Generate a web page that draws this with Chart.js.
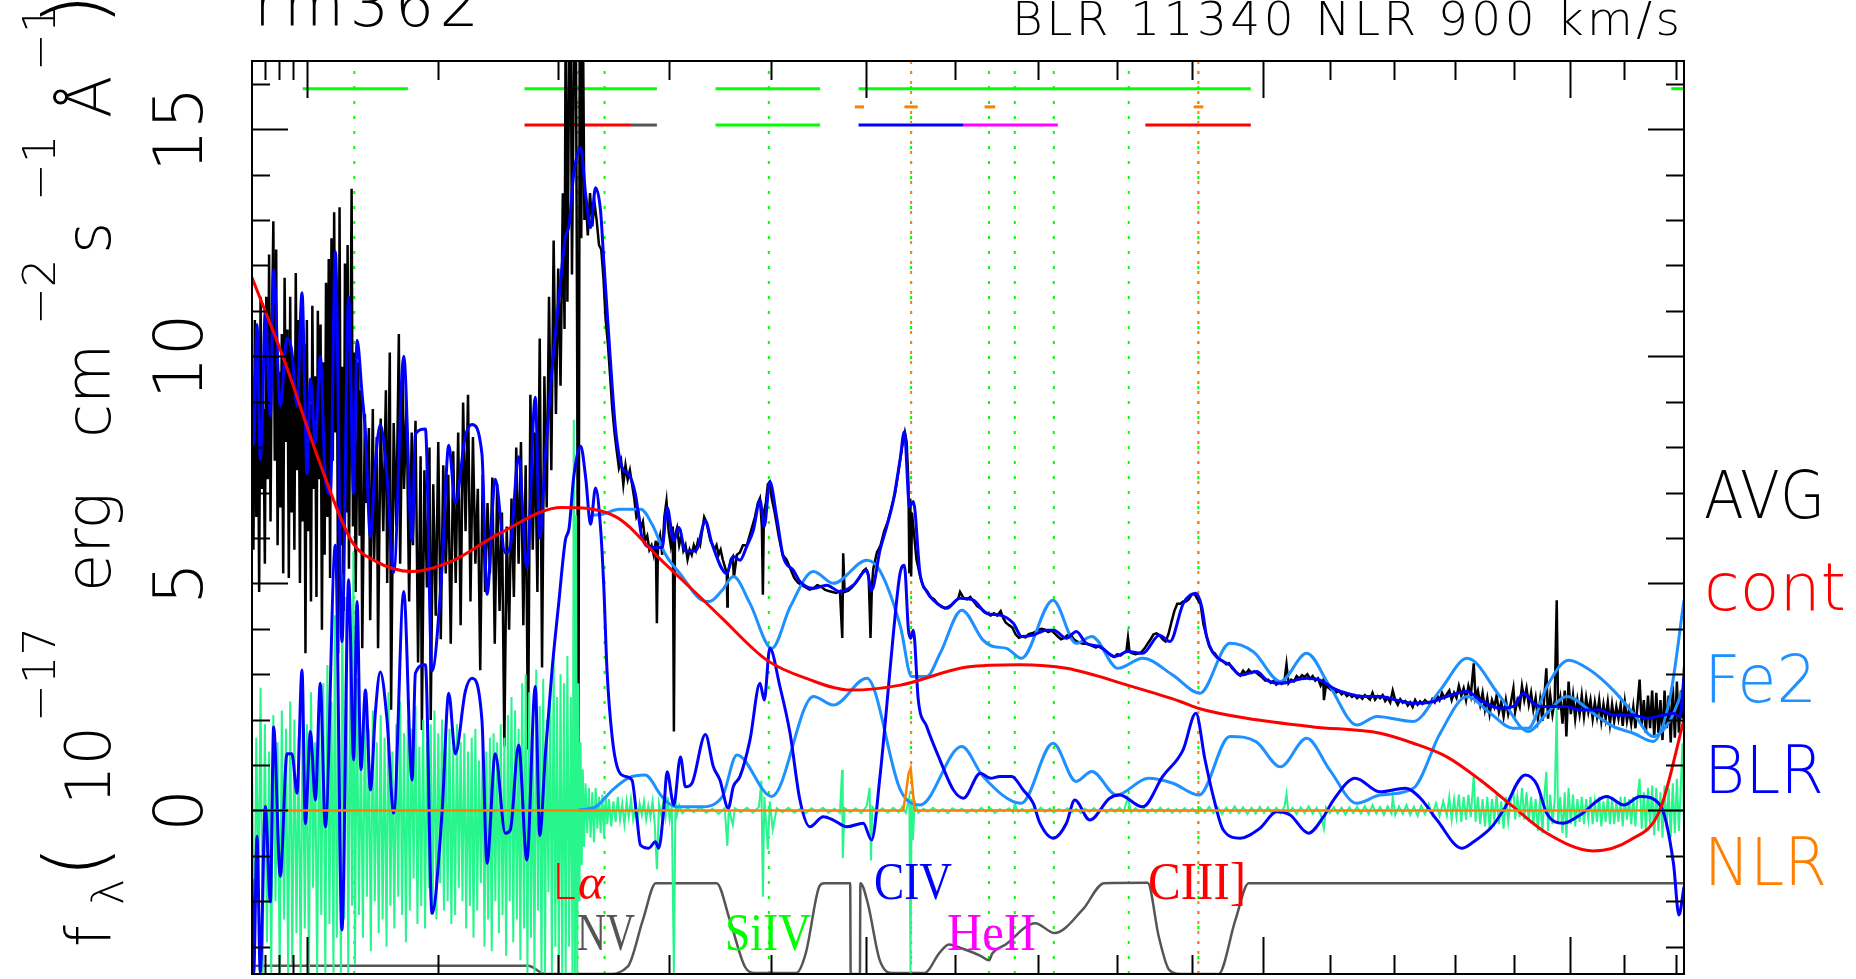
<!DOCTYPE html>
<html>
<head>
<meta charset="utf-8">
<script src="https://cdn.jsdelivr.net/npm/chart.js@4.4.1/dist/chart.umd.min.js"></script>
<style>
  html, body { margin: 0; padding: 0; background: #fff; overflow: hidden; }
  canvas { display: block; }
</style>
</head>
<body>
<canvas id="spec" width="1856" height="979"></canvas>
<script>
// rest-frame wavelength (A) vs flux (1e-17 erg/cm2/s/A)
var Y_MIN = -3.6, Y_MAX = 16.5;
var X_MIN = 961, X_MAX = 2715;

var avgData = [
  [961,9.35],[962,5.74],[963,10.8],[964,6.46],[965,10.18],[966,4.81],[967,11.31],[968,7.08],[969,8.84],[970,5.43],
  [971,11.31],[972,7.29],[973,12.24],[974,6.36],[975,10.59],[976,12.97],[977,7.7],[978,12.35],[979,5.84],[980,9.66],
  [981,6.67],[982,10.49],[983,5.22],[984,11.73],[985,8.11],[986,10.59],[987,5.12],[988,11.31],[989,6.56],[990,9.97],
  [991,5.74],[992,11.83],[993,7.49],[994,10.8],[995,5.01],[996,11.11],[997,6.36],[998,10.28],[999,3.46],[1000,10.8],
  [1001,6.15],[1002,8.94],[1003,4.6],[1004,11.11],[1005,7.08],[1006,9.56],[1007,4.7],[1008,11.0],[1009,7.29],[1010,10.7],
  [1011,3.98],[1012,9.87],[1013,5.63],[1014,11.62],[1015,6.46],[1016,12.14],[1017,5.12],[1018,12.6],[1019,7.7],[1020,13.17],
  [1021,8.32],[1022,11.0],[1023,3.46],[1024,13.28],[1025,5.84],[1026,9.77],[1027,4.39],[1028,12.04],[1029,6.56],[1030,12.45],
  [1031,5.32],[1033,13.69],[1034,6.25],[1035,10.08],[1036,4.81],[1038,9.87],[1039,6.05],[1040,9.25],[1041,3.57],[1043,8.73],
  [1044,6.77],[1046,8.42],[1047,4.19],[1049,8.84],[1050,5.53],[1052,8.22],[1053,3.57],[1055,8.63],[1057,6.15],[1059,9.25],
  [1060,5.01],[1062,10.08],[1063,2.22],[1065,8.53],[1067,6.25],[1069,10.49],[1070,5.43],[1072,9.77],[1073,7.08],[1075,8.94],
  [1077,4.6],[1079,8.32],[1080,5.84],[1082,8.58],[1084,3.26],[1086,7.8],[1087,1.77],[1089,7.49],[1091,4.91],[1093,7.99],
  [1094,1.99],[1096,7.18],[1098,4.29],[1100,8.11],[1102,3.77],[1104,7.6],[1106,5.22],[1108,7.39],[1110,3.67],[1112,7.91],
  [1114,5.01],[1116,8.32],[1118,4.08],[1120,8.98],[1122,6.15],[1124,9.15],[1126,4.6],[1128,8.22],[1130,5.43],[1132,7.08],
  [1134,3.09],[1136,7.39],[1138,4.81],[1140,6.77],[1142,5.22],[1144,7.33],[1146,3.67],[1148,7.18],[1150,4.39],[1152,6.56],
  [1154,1.41],[1156,6.25],[1158,3.98],[1160,6.87],[1162,4.7],[1164,7.99],[1166,5.43],[1168,8.11],[1170,4.08],[1172,7.6],
  [1174,1.34],[1176,9.15],[1178,5.74],[1180,8.32],[1182,4.81],[1184,10.39],[1186,3.15],[1188,9.56],[1190,6.67],[1192,11.31],
  [1194,7.49],[1196,12.55],[1198,8.73],[1200,11.93],[1202,9.35],[1204,13.59],[1205.5,10.6],[1206.5,18],[1208,11.2],[1210.5,20],
  [1212,11.8],[1215,20],[1216.5,10.8],[1217.7,0.3],[1219,20],[1220.2,12.6],[1221.5,18],[1223,13.0],
  [1224,13.59],[1226,12.66],[1228,13.59],[1230,12.86],[1232,13.38],[1234,12.97],[1236,12.45],[1238,12.35],[1240,11.73],[1242,10.8],
  [1244,10.28],[1246,9.56],[1248,8.84],[1250,8.32],[1252,7.91],[1254,7.54],[1256,7.7],[1258,7.18],[1260,7.6],[1262,7.29],
  [1264,7.49],[1266,7.18],[1268,6.87],[1270,6.46],[1272,6.56],[1274,6.22],[1276,6.36],[1278,5.94],[1280,6.05],[1282,5.74],
  [1284,5.84],[1286,5.63],[1288,5.94],[1289,4.12],[1290,5.84],[1292,6.05],[1294,5.63],[1296,6.46],[1298,6.81],[1300,6.15],
  [1302,5.84],[1304,6.25],[1305,1.74],[1306,6.05],[1308,6.22],[1310,5.84],[1312,6.05],[1314,5.72],[1316,5.84],[1318,5.53],
  [1320,5.74],[1322,5.63],[1324,5.84],[1326,5.72],[1328,5.94],[1330,5.84],[1332,6.15],[1334,6.46],[1336,6.36],[1338,6.15],
  [1340,5.94],[1342,5.86],[1344,5.74],[1346,5.84],[1348,5.63],[1350,5.74],[1352,5.53],[1356,5.22],[1356.6,4.49],[1357,5.22],
  [1360,5.53],[1362,5.59],[1363,5.12],[1366,5.63],[1369,5.68],[1372,5.84],[1376,5.84],[1380,6.15],[1384,6.46],[1387,6.77],
  [1389,6.87],[1391,6.25],[1392,4.75],[1393,6.56],[1395,6.77],[1397,7.18],[1399,7.23],[1401,6.87],[1404,6.56],[1408,6.05],
  [1412,5.63],[1416,5.53],[1420,5.32],[1424,5.12],[1428,5.01],[1432,4.96],[1436,4.91],[1440,4.86],[1444,4.89],[1448,4.96],
  [1452,4.93],[1456,4.86],[1460,4.83],[1464,4.81],[1468,4.79],[1472,4.83],[1474.5,3.8],[1475.5,5.66],[1477,4.81],[1481,4.84],
  [1485,4.91],[1489,5.01],[1493,5.12],[1497,5.27],[1500,5.32],[1503,5.17],[1505,3.8],[1506.5,4.91],[1508,5.32],[1512,5.68],
  [1516,5.84],[1520,6.15],[1524,6.36],[1528,6.67],[1532,6.98],[1536,7.49],[1540,8.01],[1543,8.32],[1545,8.11],[1547,7.18],
  [1548,5.22],[1549,6.87],[1550,5.15],[1551,6.56],[1553,6.15],[1556,5.53],[1560,5.17],[1564,4.91],[1568,4.83],[1572,4.7],
  [1576,4.65],[1580,4.55],[1584,4.5],[1588,4.45],[1592,4.48],[1596,4.53],[1600,4.6],[1604,4.67],[1606,4.81],[1610,4.68],
  [1614,4.65],[1618,4.7],[1622,4.6],[1626,4.5],[1630,4.45],[1634,4.39],[1638,4.34],[1642,4.29],[1646,4.34],[1650,4.29],
  [1654,4.39],[1657,4.24],[1660,4.14],[1664,4.08],[1668,4.03],[1672,3.88],[1676,3.8],[1680,3.83],[1684,3.81],[1688,3.88],
  [1692,3.9],[1696,3.93],[1700,3.98],[1704,4.0],[1708,3.98],[1712,3.93],[1716,3.96],[1720,3.9],[1724,3.83],[1728,3.77],
  [1732,3.8],[1736,3.86],[1740,3.88],[1744,3.77],[1748,3.72],[1752,3.69],[1756,3.67],[1760,3.67],[1764,3.65],[1768,3.62],
  [1772,3.59],[1776,3.61],[1780,3.57],[1784,3.52],[1788,3.46],[1792,3.41],[1796,3.38],[1800,3.44],[1804,3.41],[1808,3.46],
  [1812,3.52],[1814,3.8],[1816,3.49],[1820,3.46],[1824,3.44],[1828,3.46],[1832,3.49],[1836,3.57],[1840,3.67],[1844,3.77],
  [1848,3.88],[1852,3.9],[1856,3.86],[1860,3.77],[1864,3.72],[1868,3.88],[1872,4.14],[1876,4.39],[1880,4.55],[1884,4.55],
  [1888,4.6],[1892,4.6],[1896,4.65],[1900,4.76],[1904,4.76],[1908,4.65],[1912,4.55],[1916,4.1],[1920,3.85],[1924,3.62],
  [1928,3.5],[1932,3.46],[1936,3.36],[1940,3.31],[1944,3.28],[1948,3.22],[1952,3.24],[1956,3.14],[1960,3.08],[1964,3.02],
  [1968,2.97],[1972,3.08],[1976,3.01],[1980,3.1],[1984,3.03],[1988,3.06],[1992,3.02],[1996,2.97],[2000,2.92],[2004,2.86],
  [2008,2.88],[2012,2.81],[2016,2.85],[2020,2.77],[2024,2.83],[2028,2.79],[2032,2.86],[2035,3.22],[2038,2.8],[2042,2.88],
  [2046,2.84],[2050,2.96],[2054,2.9],[2058,2.98],[2062,2.94],[2066,3.0],[2070,2.9],[2074,2.96],[2078,2.86],[2082,2.91],
  [2086,2.75],[2090,2.87],[2091,2.43],[2094,2.75],[2098,2.7],[2102,2.65],[2106,2.68],[2110,2.6],[2114,2.63],[2118,2.56],
  [2122,2.6],[2126,2.52],[2130,2.56],[2134,2.5],[2138,2.54],[2142,2.47],[2146,2.52],[2150,2.46],[2154,2.54],[2158,2.49],
  [2162,2.44],[2166,2.59],[2170,2.44],[2174,2.52],[2178,2.47],[2182,2.54],[2186,2.41],[2190,2.48],[2194,2.38],[2198,2.64],
  [2202,2.43],[2206,2.33],[2210,2.45],[2214,2.37],[2218,2.41],[2222,2.31],[2226,2.38],[2230,2.28],[2234,2.43],[2238,2.33],
  [2242,2.4],[2246,2.35],[2250,2.43],[2254,2.38],[2258,2.33],[2262,2.45],[2266,2.38],[2270,2.53],[2274,2.43],[2278,2.59],
  [2282,2.48],[2286,2.56],[2290,2.64],[2294,2.43],[2298,2.59],[2302,2.48],[2306,2.74],[2310,2.53],[2314,2.69],[2318,2.43],
  [2322,2.74],[2326,2.53],[2331,3.24],[2334,2.48],[2338,2.64],[2342,2.33],[2346,2.59],[2350,2.22],[2354,2.48],[2358,2.12],
  [2362,2.43],[2366,2.28],[2370,2.53],[2374,2.17],[2378,2.38],[2382,2.07],[2386,2.43],[2390,2.12],[2394,2.33],[2399,2.69],
  [2402,2.17],[2406,2.43],[2410,2.28],[2414,2.74],[2418,2.43],[2422,2.69],[2426,2.33],[2430,2.59],[2434,2.22],[2438,2.48],
  [2442,2.02],[2446,2.43],[2450,1.97],[2454,2.59],[2457,3.13],[2460,2.02],[2464,2.53],[2468,2.12],[2472,2.43],[2475.6,4.63],
  [2478,2.22],[2482,2.48],[2486,1.91],[2490,2.64],[2493,1.63],[2497,2.84],[2501,2.12],[2505,2.53],[2509,2.02],[2513,2.43],
  [2517,2.12],[2521,2.53],[2525,2.07],[2529,2.48],[2533,2.17],[2537,2.43],[2541,2.02],[2545,2.38],[2549,2.07],[2553,2.43],
  [2557,1.97],[2561,2.33],[2565,2.02],[2569,2.38],[2573,1.91],[2577,2.33],[2581,1.97],[2585,2.28],[2589,2.02],[2593,2.33],
  [2597,1.86],[2601,2.38],[2605,1.97],[2609,2.22],[2613,1.91],[2617,2.28],[2621,1.81],[2625,2.33],[2629,2.88],[2633,1.86],
  [2637,2.43],[2641,1.71],[2645,2.53],[2649,1.81],[2653,2.64],[2657,1.6],[2661,2.59],[2665,1.71],[2669,2.43],[2673,1.55],
  [2677,2.64],[2681,1.81],[2685,2.53],[2689,1.5],[2693,2.74],[2697,1.6],[2701,2.84],[2705,1.71],[2709,2.64],[2712,2.02],[2715,3.15]
];

var residData = [
  [961,1.2],[962.5,-3.6],[964,1.6],[965.5,-1.8],[967,2.7],[968.5,-3.6],[970,1.9],[971.5,-2.9],[973,1.3],[974.5,-3.6],
  [976,2.1],[977.5,-2.0],[979,1.5],[980.5,-3.6],[982,2.2],[983.5,-2.4],[985,1.8],[986.5,-3.6],[988,2.4],[989.5,-3.4],
  [991,2.0],[992.5,-2.7],[994,1.6],[995.5,-3.6],[997,2.3],[998.5,-2.6],[1000,1.9],[1001.5,-3.6],[1003,2.6],[1004.5,-1.7],
  [1006,1.5],[1007.5,-3.6],[1009,2.1],[1010.5,-2.3],[1012,2.8],[1013.5,-3.6],[1015,3.2],[1016.5,-2.5],[1018,2.4],[1019.5,-3.6],
  [1020.5,4.3],[1022,-2.8],[1023.5,2.0],[1025,-3.6],[1026,5.2],[1027.5,-2.4],[1029,4.7],[1030.5,-3.6],[1032,3.6],[1033.3,-2.1],
  [1034.3,5.7],[1035.5,-3.4],[1037,2.9],[1038.5,-2.3],[1040,1.7],[1041.5,-2.8],[1043,2.4],[1044.5,-1.9],[1046,1.8],[1047.5,-3.1],
  [1049,2.2],[1050.5,-2.0],[1052,1.5],[1053.5,-2.7],[1055,2.1],[1056.5,-2.4],[1058,1.6],[1059.5,-3.0],[1061,2.6],[1062.5,-2.1],
  [1064,1.3],[1065.5,-2.6],[1067,1.9],[1068.5,-1.9],[1070,2.4],[1071.5,-2.3],[1073,1.7],[1074.5,-2.9],[1076,2.0],[1077.5,-2.2],
  [1079,1.8],[1080.5,-1.5],[1082,2.3],[1083.5,-2.5],[1085,1.4],[1086.5,-2.1],[1088,2.0],[1089.5,-2.6],[1091,1.5],[1092.5,-1.7],
  [1094,1.9],[1095.5,-2.3],[1097,2.2],[1098.5,-2.4],[1100,1.7],[1101.5,-1.6],[1103,2.0],[1104.5,-2.2],[1106,1.6],[1107.5,-2.0],
  [1109,1.8],[1110.5,-2.5],[1112,1.4],[1113.5,-2.3],[1115,1.9],[1116.5,-1.7],[1118,1.5],[1119.5,-2.0],[1121,1.7],[1122.5,-2.6],
  [1124,1.3],[1125.5,-2.1],[1127,1.6],[1128.5,-2.8],[1130,1.8],[1131.5,-2.2],[1133,1.1],[1134.5,-1.6],[1136,1.5],[1137.5,-3.0],
  [1139,1.3],[1140.5,-2.4],[1142,1.6],[1143.5,-3.1],[1145,1.7],[1146.5,-2.0],[1148,1.5],[1149.5,-2.7],[1151,1.9],[1152.5,-2.3],
  [1154,1.6],[1155.5,-3.2],[1157,2.1],[1158.5,-2.0],[1160,2.5],[1161.5,-2.9],[1163,2.2],[1164.5,-2.4],[1166,1.8],[1167.5,-3.3],
  [1169,2.8],[1170.5,-2.6],[1172,3.0],[1173.5,-3.6],[1175,2.6],[1176.5,-2.8],[1178,1.7],[1179.5,-3.6],[1181,3.1],[1182.5,-2.2],
  [1184,2.3],[1185.5,-3.6],[1187,2.9],[1188.5,-3.6],[1190,2.0],[1191.5,-1.8],[1193,2.7],[1194.5,-3.6],[1196,3.4],[1197.5,-3.0],
  [1199,2.5],[1200.5,-3.6],[1202,3.0],[1203.5,-3.6],[1205,2.8],[1206.5,-3.6],[1208,3.4],[1209.5,-3.0],[1211,2.5],[1212.5,-3.6],
  [1213.6,8.6],[1214.6,-3.6],[1215.6,6.5],[1216.6,-3.6],[1217.6,2.8],
  [1218.6,-2.0],[1219.6,1.5],[1220.6,-1.2],[1221.6,0.9],[1222.6,-0.8],[1224,0.6],[1225.5,-0.5],[1227,0.5],[1228.5,-0.6],[1230,0.4],
  [1231.5,-0.7],[1233,0.5],[1234.5,-0.4],[1236,0.3],[1237.5,-0.5],[1239,0.35],[1240.5,-0.6],[1242,0.3],[1243.5,-0.3],[1245,0.25],
  [1247,-0.35],[1249,0.2],[1251,-0.25],[1253,0.3],[1255,-0.2],[1257,0.15],[1259,-0.3],[1261,0.2],[1263,-0.15],[1265,0.25],
  [1267,-0.2],[1269,0.1],[1271,-0.25],[1273,0.15],[1275,-0.1],[1277,0.2],[1279,-0.2],[1281,0.1],[1283,-0.15],[1285,0.2],
  [1287,-0.3],[1289,-1.3],[1291,0.15],[1293,-0.1],[1295,0.2],[1297,-0.15],[1299,0.3],[1301,-0.2],[1303,0.1],[1305,-3.6],
  [1306.5,0.2],[1308,-0.1],[1310,0.12],[1313,-0.06],[1318,0.05],[1324,-0.04],[1330,0.07],[1336,-0.05],[1342,0.04],[1348,-0.07],
  [1354,0.05],[1356.6,-0.78],[1358,0.04],[1362,-0.32],[1364,0.05],[1370,-0.04],[1376,0.06],[1382,-0.05],[1388,0.08],[1390.5,0.66],
  [1392,-1.9],[1393.5,0.3],[1397,-0.86],[1399,0.2],[1402,-0.42],[1406,0.05],[1412,-0.04],[1418,0.06],[1424,-0.05],[1430,0.04],
  [1436,-0.06],[1442,0.05],[1448,-0.03],[1454,0.06],[1460,-0.05],[1466,0.04],[1472,-0.05],[1474.3,0.89],[1475,-1.05],[1477,0.05],
  [1483,-0.04],[1489,0.05],[1495,-0.06],[1501,0.1],[1504,0.5],[1505.5,-1.1],[1507,0.08],[1512,-0.05],[1518,0.05],[1524,-0.05],
  [1530,0.06],[1536,-0.04],[1540,0.08],[1544,-0.05],[1548,0.3],[1549.3,-3.6],[1550.5,0.25],[1552,-0.65],[1554,0.2],
  [1558,-0.05],[1564,0.04],[1569,-0.03],[1575,0.06],[1581,-0.04],[1586,0.03],[1592,-0.06],[1597,0.05],[1603,-0.02],[1608,0.04],
  [1614,-0.05],[1620,0.03],[1625,-0.04],[1631,0.06],[1636,-0.03],[1642,0.04],[1647,-0.06],[1653,0.03],[1658,-0.02],[1664,0.05],
  [1669,-0.04],[1671,0.15],[1675,-0.03],[1680,0.04],[1686,-0.05],[1692,0.03],[1697,-0.04],[1703,0.06],[1708,-0.03],[1714,0.04],
  [1719,-0.05],[1725,0.03],[1731,-0.02],[1736,0.05],[1742,-0.04],[1747,0.03],[1753,-0.06],[1758,0.04],[1764,-0.03],[1770,0.05],
  [1775,-0.04],[1781,0.03],[1786,-0.05],[1792,0.04],[1797,-0.03],[1803,0.06],[1808,-0.04],[1813.7,0.28],[1818,-0.04],[1824,0.05],
  [1829,-0.03],[1835,0.04],[1840,-0.05],[1846,0.03],[1851,-0.04],[1857,0.06],[1862,-0.03],[1868,0.04],[1873,-0.05],[1879,0.03],
  [1884,-0.04],[1890,0.05],[1895,-0.03],[1901,0.04],[1906,-0.06],[1912,0.06],[1918,-0.05],[1924,0.08],[1930,-0.06],[1936,0.07],
  [1942,-0.08],[1948,0.06],[1954,-0.05],[1960,0.09],[1966,-0.06],[1972,0.07],[1978,-0.08],[1984,0.06],[1990,-0.07],[1996,0.08],
  [2002,-0.05],[2008,0.07],[2014,-0.08],[2020,0.06],[2026,-0.06],[2032,0.08],[2035,0.37],[2038,-0.07],[2044,0.06],[2050,-0.08],
  [2056,0.07],[2062,-0.06],[2068,0.09],[2074,-0.07],[2080,0.06],[2086,-0.08],[2091,-0.4],[2094,0.07],[2100,-0.06],[2106,0.08],
  [2112,-0.07],[2118,0.06],[2124,-0.09],[2130,0.07],[2136,-0.06],[2142,0.08],[2148,-0.07],[2154,0.1],[2160,-0.08],[2166,0.12],
  [2172,-0.07],[2178,0.08],[2184,-0.1],[2190,0.09],[2196,-0.07],[2198,0.3],[2202,-0.1],[2208,0.09],[2214,-0.08],[2220,0.12],
  [2226,-0.1],[2232,0.08],[2238,-0.12],[2244,0.1],[2250,-0.08],[2256,0.14],[2262,-0.1],[2268,0.16],[2274,-0.12],[2280,0.2],
  [2286,-0.12],[2290,0.3],[2294,-0.2],[2298,0.25],[2302,-0.15],[2306,0.35],[2310,-0.25],[2314,0.3],[2318,-0.2],[2322,0.35],
  [2326,-0.15],[2331,0.78],[2334,-0.25],[2338,0.3],[2342,-0.3],[2346,0.25],[2350,-0.35],[2354,0.3],[2358,-0.4],[2362,0.25],
  [2366,-0.2],[2370,0.35],[2374,-0.3],[2378,0.2],[2382,-0.4],[2386,0.3],[2390,-0.25],[2394,0.2],[2399,0.45],[2402,-0.2],
  [2406,0.3],[2410,-0.15],[2414,0.5],[2418,-0.2],[2422,0.4],[2426,-0.25],[2430,0.3],[2434,-0.3],[2438,0.25],[2442,-0.45],
  [2446,0.3],[2450,-0.5],[2454,0.4],[2457,0.85],[2460,-0.45],[2464,0.35],[2468,-0.3],[2472,0.25],[2475.6,2.29],[2478,-0.3],
  [2482,0.3],[2486,-0.5],[2490,0.4],[2493,-0.6],[2497,0.5],[2501,-0.3],[2505,0.35],[2509,-0.35],[2513,0.25],[2517,-0.25],
  [2521,0.3],[2525,-0.3],[2529,0.25],[2533,-0.2],[2537,0.3],[2541,-0.3],[2545,0.2],[2549,-0.25],[2553,0.3],[2557,-0.35],
  [2561,0.2],[2565,-0.25],[2569,0.3],[2573,-0.3],[2577,0.25],[2581,-0.3],[2585,0.2],[2589,-0.25],[2593,0.3],[2597,-0.35],
  [2601,0.3],[2605,-0.2],[2609,0.25],[2613,-0.3],[2617,0.3],[2621,-0.35],[2625,0.3],[2629,0.7],[2633,-0.4],[2637,0.4],
  [2641,-0.45],[2645,0.5],[2649,-0.35],[2653,0.55],[2657,-0.55],[2661,0.5],[2665,-0.45],[2669,0.4],[2673,-0.6],[2677,0.55],
  [2681,-0.4],[2685,0.5],[2689,-0.6],[2693,0.6],[2697,-0.5],[2701,0.7],[2705,-0.45],[2709,0.6],[2712,1.48],[2715,-0.3]
];

var contData = [
  [961,11.73],[984,9.89],[1009,7.69],[1033,5.93],[1051,5.49],[1079,5.26],[1111,5.49],[1150,6.10],[1203,6.67],[1250,6.48],
  [1294,5.49],[1330,4.70],[1351,4.24],[1396,3.31],[1440,2.88],[1483,2.65],[1538,2.76],[1614,3.16],[1677,3.21],[1735,3.13],
  [1821,2.72],[1884,2.40],[1911,2.24],[1977,2.03],[2075,1.84],[2178,1.70],[2231,1.48],[2286,1.18],[2342,0.67],[2398,0.09],
  [2458,-0.50],[2542,-0.89],[2611,-0.65],[2668,0.01],[2715,2.00]
];

var fe2Data = [
  [1218,0.01],[1233,0.08],[1248,0.45],[1263,0.72],[1278,0.78],[1294,0.30],[1307,0.08],[1330,0.08],[1351.5,0.30],[1366,1.22],
  [1401,0.31],[1444,2.51],[1465,2.32],[1501,2.91],[1538,0.45],[1560,0.12],[1608,1.41],[1633,0.75],[1679,0.16],[1718,1.48],
  [1747,0.64],[1767,0.86],[1799,0.34],[1841,0.71],[1874,0.60],[1910,0.34],[1953,1.63],[1991,1.51],[2026,0.96],[2065,1.59],
  [2100,0.89],[2141,0.16],[2178,0.34],[2231,0.49],[2275,1.70],[2320,2.51],[2359,2.14],[2399,1.81],[2425,1.81],[2458,2.73],
  [2497,3.31],[2536,3.09],[2579,2.65],[2617,2.14],[2655,1.63],[2688,1.99],[2715,2.73]
];

var contFe2Data = [
  [1230,6.50],[1239,6.52],[1254,6.63],[1274,6.63],[1284.5,6.30],[1297,5.64],[1313,5.15],[1329,4.67],[1339,4.60],[1351.5,4.85],
  [1362.5,5.15],[1379,4.56],[1401,3.57],[1420,4.49],[1444,5.26],[1465,5.00],[1501,5.51],[1515,5.29],[1538,4.05],[1550.5,2.95],
  [1567.6,2.95],[1583,3.46],[1608,4.41],[1633,3.75],[1645,3.61],[1661,3.57],[1679,3.35],[1718,4.63],[1747,3.68],[1767,3.83],
  [1801,3.13],[1833.5,3.35],[1874,2.98],[1911,2.58],[1953,3.68],[1987,3.49],[2026,2.84],[2065,3.46],[2100,2.73],[2141.5,1.88],
  [2173,2.07],[2231,1.96],[2275,2.65],[2320,3.35],[2376,2.51],[2425,1.74],[2458,2.14],[2494,2.51],[2542,2.14],[2579,1.85],
  [2617,1.70],[2655,1.52],[2688,2.51],[2715,4.63]
];

var blrData = [
  [961,-1.5],[962.2,-3.58],[964.5,-0.57],[966.8,-3.58],[970.3,0.09],[973.9,-2.01],[976.2,1.84],[980.9,-1.45],[985.7,1.25],[989.2,1.25],
  [992.9,0.38],[996.5,3.09],[998.9,-0.29],[1002.6,1.74],[1006.2,0.23],[1009.8,2.80],[1013.5,-0.36],[1020.9,5.84],[1025.8,-2.63],[1030.8,5.08],
  [1034.5,1.11],[1037.1,4.60],[1040,0.9],[1043.4,2.65],[1047.2,0.45],[1050.9,2.14],[1054.7,3.05],[1059.9,1.99],[1065,-0.06],[1072.8,4.82],
  [1079.3,0.67],[1081.9,3.02],[1089.8,3.21],[1095,-2.26],[1103,-0.06],[1108.4,2.58],[1113.7,1.25],[1121.8,2.62],[1127.2,2.91],[1135.4,1.99],
  [1139.6,-1.16],[1146.4,1.25],[1154.8,-0.50],[1159,-0.43],[1166,1.44],[1173,-1.09],[1180.2,2.73],[1184,-0.55],[1188.9,1.25],[1194.6,3.09],
  [1200.4,4.56],[1206.2,5.95],[1209.5,6.22],[1213.5,7.33],[1219.7,8.02],[1224.1,7.33],[1228.5,6.30],[1232.9,7.10],[1237.4,6.22],[1240.3,4.93],
  [1243.2,3.09],[1247.8,1.63],[1252.4,0.96],[1259.9,0.75],[1265.9,0.67],[1270.6,-0.20],[1273.7,-0.76],[1281.4,-0.83],[1287.6,-0.69],[1290.7,-0.83],
  [1295.4,0.01],[1298.6,0.85],[1304.9,0.12],[1311.2,1.18],[1316,0.52],[1322.2,0.60],[1335.2,1.67],[1342.8,0.97],[1349.3,0.67],[1357.5,0.05],
  [1362.5,0.53],[1369.1,0.75],[1379,1.55],[1389.1,2.80],[1393.4,2.43],[1399,3.57],[1409.3,2.73],[1419.7,1.70],[1429.9,0.23],[1440.3,-0.36],
  [1454.3,-0.14],[1464.9,-0.21],[1479.2,-0.36],[1497.1,-0.28],[1506.2,-0.65],[1515.4,0.75],[1522.8,2.29],[1530.2,3.90],[1537.6,5.22],[1542.4,5.40],
  [1547,3.97],[1549.5,3.79],[1552.5,3.97],[1558.1,2.43],[1567.6,1.85],[1582.8,1.11],[1598.3,0.45],[1610,0.27],[1629.8,0.82],[1641.8,0.71],
  [1653.1,0.75],[1667.3,0.75],[1681.3,0.45],[1693.5,0.16],[1701.8,-0.28],[1718.2,-0.61],[1734.8,-0.28],[1745.3,0.23],[1764.4,-0.21],[1790,0.27],
  [1803.1,0.34],[1833.5,0.08],[1860.3,0.75],[1887.8,1.33],[1905.6,2.14],[1918.3,1.11],[1929.9,0.30],[1943.9,-0.43],[1967.6,-0.61],[1996.3,-0.39],
  [2020.6,-0.03],[2040.4,-0.10],[2067.7,-0.50],[2090.3,-0.14],[2105.5,0.23],[2139,0.71],[2178.1,0.41],[2218.3,0.49],[2242.6,0.27],[2269.7,-0.21],
  [2311.1,-0.83],[2330.7,-0.69],[2361.8,-0.36],[2381.9,0.01],[2419.8,0.78],[2440.6,0.56],[2457.7,-0.06],[2487.6,-0.28],[2518,-0.10],[2567.2,0.31],
  [2599.3,0.12],[2629.8,0.31],[2668.3,0.12],[2694.3,-1.16],[2705,-2.30],[2715,-1.68]
];

var modelData = [
  [961,9.6],[962.2,8.07],[964.5,10.7],[966.8,7.72],[968,8.4],[970.3,11.0],[973.9,8.69],[976.2,11.9],[980.9,8.9],[985.7,10.4],
  [989.2,10.1],[992.9,8.9],[996.5,11.4],[998.9,8.6],[1000.1,7.4],[1002.6,9.5],[1006.2,8.1],[1009.8,10.0],[1013.5,7.3],[1017.2,6.96],
  [1020.9,12.3],[1025.8,3.72],[1030.8,11.3],[1034.5,6.98],[1037.1,10.35],[1040.9,9.16],[1043.4,8.3],[1047.2,6.02],[1050.9,7.63],[1054.7,8.49],
  [1059.9,7.34],[1065,5.24],[1072.8,10.0],[1079.3,5.93],[1081.9,8.29],[1089.8,8.4],[1095,3.07],[1103,5.34],[1108.4,8.04],[1113.7,6.77],
  [1121.8,8.24],[1127.2,8.5],[1135.4,7.85],[1139.6,4.76],[1146.4,7.29],[1154.8,5.67],[1159,5.81],[1166,7.79],[1173,5.35],[1180.2,9.1],
  [1184,6.0],[1188.9,7.83],[1194.6,9.71],[1200.4,11.21],[1206.2,12.62],[1209.5,12.89],[1213.5,14.0],[1219.7,14.59],[1224.1,13.56],[1228.5,12.83],
  [1232.9,13.71],[1237.4,13.2],[1240.3,12.1],[1246.3,9.9],[1250.8,8.43],[1256.9,7.55],[1263,7.4],[1269.1,6.96],[1275.2,6.01],[1284.5,5.79],
  [1293.9,5.79],[1298.6,6.67],[1304.9,5.93],[1309.6,6.23],[1316,5.71],[1325.6,5.71],[1335.2,6.37],[1341.7,5.86],[1355.9,5.22],[1362.5,5.59],
  [1369.1,5.51],[1375.7,5.81],[1382.4,6.17],[1389.1,6.83],[1393.4,6.25],[1399,7.24],[1405.9,6.47],[1412.7,5.59],[1423,5.29],[1429.9,5.04],
  [1443.8,4.89],[1457.9,4.96],[1472,4.82],[1486.3,4.96],[1500.8,5.29],[1506.2,4.85],[1515.4,5.73],[1522.8,6.25],[1530.2,6.83],[1537.6,7.72],
  [1542.4,8.34],[1548.2,6.69],[1552.5,6.8],[1560,5.22],[1567.6,4.82],[1575.2,4.63],[1590.5,4.45],[1605.9,4.67],[1621.5,4.63],[1637.2,4.34],
  [1653.1,4.30],[1669.3,4.12],[1679.4,3.83],[1693.5,3.86],[1709.9,3.97],[1719,3.97],[1734.8,3.79],[1747.3,3.94],[1760,3.68],[1777,3.61],
  [1797,3.39],[1813.7,3.50],[1833.5,3.46],[1855.8,3.86],[1870.1,3.72],[1888.3,4.56],[1905.6,4.78],[1913.6,4.49],[1920.5,3.83],[1929.9,3.46],
  [1943.9,3.28],[1953.4,3.20],[1967.6,2.98],[1991.5,3.06],[2006,2.87],[2026,2.80],[2065,2.91],[2085,2.87],[2105.5,2.69],[2126,2.58],
  [2152,2.51],[2178,2.51],[2204,2.43],[2231,2.36],[2264,2.40],[2286,2.51],[2320,2.62],[2342,2.43],[2376,2.25],[2399,2.29],
  [2417,2.58],[2434,2.36],[2446,2.29],[2494,2.29],[2518,2.21],[2555,2.21],[2579,2.10],[2617,2.10],[2642,2.03],[2675,2.10],
  [2694,2.14],[2707,2.07],[2715,2.95]
];

var nlrData = [[961,0],[1541,0],[1544,0.35],[1547,0.8],[1549.5,0.93],[1552,0.4],[1554,0],[2715,0]];

var windowData = [
  [961,-3.42],[1174,-3.42],[1189,-3.60],[1243,-3.60],[1262,-3.44],[1276,-2.41],[1288,-1.60],[1346,-1.60],[1359,-2.41],[1374,-3.44],
  [1384,-3.58],[1426,-3.58],[1436,-3.14],[1450,-1.68],[1455,-1.60],[1483,-1.60],[1483.5,-3.60],[1493.5,-3.60],[1494,-1.60],[1502,-2.04],
  [1515,-3.29],[1530,-3.58],[1565,-3.58],[1582,-3.14],[1593,-2.95],[1610,-3.05],[1630,-3.20],[1640,-3.30],[1644,-3.15],[1660,-2.95],
  [1696,-2.48],[1720,-2.70],[1755,-2.19],[1783,-1.60],[1840,-1.59],[1855,-2.78],[1869,-3.51],[1884,-3.60],[1937,-3.60],[1961,-2.41],
  [1980,-1.60],[2715,-1.60]
];

// line positions and fit-window bars
var lineMarks = [1035, 1217, 1241, 1398, 1550, 1640, 1671, 1719, 1815, 1909];
var nlrMarks = [1550, 1909];
var barLevels = [15.89, 15.49, 15.09];
var bars1Green = [[997,1076],[1171,1289],[1345,1451],[1492,1983],[2690,2715]];
var bars2Orange = [[1212.6,1221.7],[1488,1498],[1542.5,1557.4],[1634.8,1647.5],[1902.5,1915.9]];
var bars3Red = [[1171,1265],[1837,1983]];
var bars3Gray = [[1265,1289]];
var bars3Green = [[1345,1451]];
var bars3Blue = [[1492,1610]];
var bars3Magenta = [[1610,1724]];

var xMajorTicks = [1000, 1500, 2000, 2500];
var xMinorTicks = [970, 980, 990, 1100, 1200, 1300, 1400, 1600, 1700, 1800, 1900, 2100, 2200, 2300, 2400, 2600, 2700];
var yMajorTicks = [0, 5, 10, 15];
var yMinorTicks = [-3, -2, -1, 1, 2, 3, 4, 6, 7, 8, 9, 11, 12, 13, 14, 16];
var yTickLabels = ['0', '5', '10', '15'];

var legendNames = ['AVG', 'cont', 'Fe2', 'BLR', 'NLR'];
var lineNames = ['Lα', 'NV', 'SiIV', 'CIV', 'HeII', 'CIII]'];
var lineNameWave = [1194.6, 1216.5, 1354.3, 1508.8, 1591, 1840.6];
var lineNameLevel = [-1.95, -3.07, -3.07, -1.95, -3.07, -1.95];

var C = {
  black: '#000000', red: '#ff0000', fe2: '#1e90ff', blue: '#0000ff', orange: '#ff8000',
  resid: 'rgb(40,245,140)', gray: '#555555', green: '#00ff00', magenta: '#ff00ff'
};

function pts(arr) { return arr.map(function (p) { return { x: p[0], y: p[1] }; }); }

function curve(arr, color, width, order, smooth) {
  return {
    data: pts(arr), borderColor: color, borderWidth: width, pointRadius: 0,
    fill: false, order: order, clip: 0,
    tension: 0, cubicInterpolationMode: smooth ? 'monotone' : 'default'
  };
}

var datasets = [];
datasets.push(curve(nlrData, C.orange, 2.5, 1, false));
datasets.push(curve(contData, C.red, 3, 2, true));
datasets.push(curve(modelData, C.blue, 3, 3, true));
datasets.push(curve(blrData, C.blue, 3, 4, true));
datasets.push(curve(fe2Data, C.fe2, 3, 5, true));
datasets.push(curve(contFe2Data, C.fe2, 3, 6, true));
datasets.push(curve(residData, C.resid, 2, 7, false));
datasets.push(curve(avgData, C.black, 2.5, 8, false));
datasets.push(curve(windowData, C.gray, 2.5, 9, true));

nlrMarks.forEach(function (w) {
  var d = curve([[w, Y_MIN], [w, Y_MAX]], C.orange, 2, 10, false);
  d.borderDash = [3, 7];
  datasets.push(d);
});
lineMarks.forEach(function (w) {
  var d = curve([[w, Y_MIN], [w, Y_MAX]], C.green, 2, 11, false);
  d.borderDash = [3, 12];
  datasets.push(d);
});

function addBars(list, level, color) {
  list.forEach(function (b) {
    datasets.push(curve([[b[0], level], [b[1], level]], color, 3, 12, false));
  });
}
addBars(bars1Green, barLevels[0], C.green);
addBars(bars2Orange, barLevels[1], C.orange);
addBars(bars3Red, barLevels[2], C.red);
addBars(bars3Gray, barLevels[2], C.gray);
addBars(bars3Green, barLevels[2], C.green);
addBars(bars3Blue, barLevels[2], C.blue);
addBars(bars3Magenta, barLevels[2], C.magenta);

var SANS = '"DejaVu Sans", "Liberation Sans", sans-serif';
var SERIF = '"Liberation Serif", "DejaVu Serif", serif';

// draw text so it spans a given width
function fitText(ctx, text, x, y, font, width) {
  ctx.font = font;
  ctx.letterSpacing = '0px';
  var w = ctx.measureText(text).width;
  ctx.save();
  ctx.translate(x, y);
  if (width < w) {
    ctx.scale(width / w, 1);
  } else if (text.length > 1) {
    ctx.letterSpacing = ((width - w) / (text.length - 1)) + 'px';
  }
  ctx.textAlign = 'left';
  ctx.textBaseline = 'alphabetic';
  ctx.fillText(text, 0, 0);
  ctx.restore();
  ctx.letterSpacing = '0px';
}

var decor = {
  id: 'decor',
  afterDatasetsDraw: function (chart) {
    var ctx = chart.ctx, a = chart.chartArea, xs = chart.scales.x, ys = chart.scales.y;
    ctx.save();
    ctx.strokeStyle = '#000';
    ctx.lineWidth = 2;
    ctx.strokeRect(a.left, a.top, a.right - a.left, a.bottom - a.top);

    function seg(x1, y1, x2, y2) { ctx.beginPath(); ctx.moveTo(x1, y1); ctx.lineTo(x2, y2); ctx.stroke(); }
    xMajorTicks.concat(xMinorTicks).forEach(function (v) {
      var px = Math.round(xs.getPixelForValue(v)) + 0.5;
      var len = xMajorTicks.indexOf(v) >= 0 ? 37 : 19;
      seg(px, a.top, px, a.top + len);
      seg(px, a.bottom, px, a.bottom - len);
    });
    yMajorTicks.concat(yMinorTicks).forEach(function (v) {
      var py = Math.round(ys.getPixelForValue(v)) + 0.5;
      var len = yMajorTicks.indexOf(v) >= 0 ? 36 : 18;
      seg(a.left, py, a.left + len, py);
      seg(a.right, py, a.right - len, py);
    });

    // y tick labels, rotated along the axis
    ctx.fillStyle = '#000';
    ctx.font = '200 67px ' + SANS;
    yMajorTicks.forEach(function (v, i) {
      var py = ys.getPixelForValue(v);
      ctx.save();
      ctx.translate(202, py);
      ctx.rotate(-Math.PI / 2);
      ctx.textAlign = 'center';
      ctx.textBaseline = 'alphabetic';
      ctx.fillText(yTickLabels[i], 0, 0);
      ctx.restore();
    });

    // y axis title
    var parts = [
      ['f', 62, 110, 947], ['λ', 44, 124, 905], ['(', 84, 104, 878], ['10', 62, 110, 805],
      ['−17', 45, 55, 722], ['erg', 62, 110, 592], ['cm', 62, 110, 438], ['−2', 45, 55, 325],
      ['s', 62, 110, 254], ['−1', 45, 55, 201], ['Å', 62, 110, 118], ['−1', 45, 55, 71], [')', 84, 104, 26]
    ];
    parts.forEach(function (p) {
      ctx.save();
      ctx.translate(p[2], p[3]);
      ctx.rotate(-Math.PI / 2);
      ctx.font = '200 ' + p[1] + 'px ' + SANS;
      ctx.textAlign = 'left';
      ctx.fillText(p[0], 0, 0);
      ctx.restore();
    });

    // titles
    ctx.fillStyle = '#000';
    fitText(ctx, 'rm362', 254, 26, '200 62px ' + SANS, 225);
    fitText(ctx, 'BLR 11340 NLR 900 km/s', 1012, 35, '200 47px ' + SANS, 668);

    // legend at right
    var legColors = [C.black, C.red, C.fe2, C.blue, C.orange];
    var legBase = [518, 610, 702, 793, 885];
    var legWidth = [121, 142, 113, 120, 123];
    legendNames.forEach(function (n, i) {
      ctx.fillStyle = legColors[i];
      fitText(ctx, n, 1704, legBase[i], '200 66px ' + SANS, legWidth[i]);
    });

    // emission line names
    var nameColors = [C.red, C.gray, C.green, C.blue, C.magenta, C.red];
    var nameWidth = [53, 58, 86, 78, 89, 98];
    lineNames.forEach(function (n, i) {
      var px = xs.getPixelForValue(lineNameWave[i]);
      var py = ys.getPixelForValue(lineNameLevel[i]);
      ctx.fillStyle = nameColors[i];
      if (n === 'Lα') {
        fitText(ctx, 'L', px, py, '200 50px ' + SANS, 24);
        fitText(ctx, 'α', px + 26, py, 'italic 50px ' + SERIF, 27);
      } else {
        fitText(ctx, n, px, py, '52px ' + SERIF, nameWidth[i]);
      }
    });
    ctx.restore();
  }
};

new Chart(document.getElementById('spec'), {
  type: 'line',
  data: { datasets: datasets },
  options: {
    responsive: false,
    animation: false,
    devicePixelRatio: 1,
    layout: { padding: { left: 252, right: 172, top: 61, bottom: 5 } },
    plugins: { legend: { display: false }, tooltip: { enabled: false }, title: { display: false } },
    elements: { point: { radius: 0 } },
    scales: {
      x: { type: 'logarithmic', min: X_MIN, max: X_MAX, display: false },
      y: { type: 'linear', min: Y_MIN, max: Y_MAX, display: false }
    }
  },
  plugins: [decor]
});
</script>
</body>
</html>
